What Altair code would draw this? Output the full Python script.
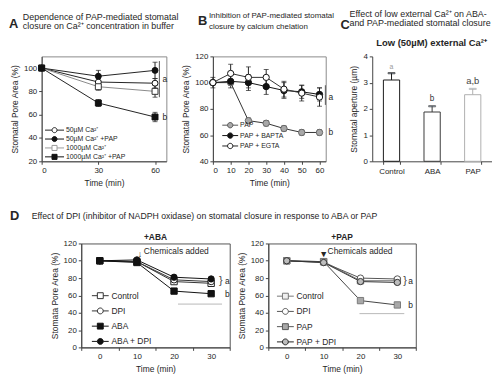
import altair as alt
import pandas as pd

FONT = "Liberation Sans"
INK = "#262626"
ONE = pd.DataFrame({"k": [0]})

# ---------------- Panel A ----------------
A_TIME = [0, 30, 60]
A_SERIES = ["50µM Ca²⁺", "50µM Ca²⁺ +PAP", "1000µM Ca²⁺", "1000µM Ca²⁺ +PAP"]
A_50 = [100, 88, 87]
A_50_PAP = [100, 93, 98]
A_1000 = [100, 84, 80]
A_1000_PAP = [100, 70, 58]
A_ERR_50 = [0, 3, 4]
A_ERR_50_PAP = [0, 5, 7]
A_ERR_1000 = [0, 3, 5]
A_ERR_1000_PAP = [0, 3, 4]
A_ANN_TEXT = ["a", "b"]
A_ANN_T = [64, 64]
A_ANN_V = [91, 58]

# ---------------- Panel B ----------------
B_TIME = [0, 10, 20, 30, 40, 50, 60]
B_SERIES = ["PAP", "PAP + BAPTA", "PAP + EGTA"]
B_PAP = [100, 100, 71, 69, 65, 62, 62]
B_BAPTA = [100, 101, 100, 97, 94, 93, 91]
B_EGTA = [100, 107, 104, 104, 95, 92, 89]
B_ERR_PAP = [0, 2, 2, 2, 2, 2, 2]
B_ERR_BAPTA = [0, 5, 6, 6, 6, 5, 5]
B_ERR_EGTA = [4, 7, 8, 6, 6, 6, 7]
B_ANN_TEXT = ["a", "b"]
B_ANN_T = [65, 65]
B_ANN_V = [89, 62]

# ---------------- Panel C ----------------
C_CATS = ["Control", "ABA", "PAP"]
C_VALS = [3.1, 1.88, 2.54]
C_ERR = [0.26, 0.22, 0.22]
C_LETTERS = ["a", "b", "a,b"]

# ---------------- Panel D ----------------
D_TIME = ["0", "10", "20", "30"]
D1_SERIES = ["Control", "DPI", "ABA", "ABA + DPI"]
D1_CONTROL = [100, 99, 76, 74]
D1_DPI = [100, 99, 78, 76]
D1_ABA = [100, 98, 65, 62]
D1_ABA_DPI = [100, 101, 81, 79]
D2_SERIES = ["Control", "DPI", "PAP", "PAP + DPI"]
D2_CONTROL = [100, 99, 77, 77]
D2_DPI = [100, 98, 80, 79]
D2_PAP = [100, 99, 54, 49]
D2_PAP_DPI = [100, 98, 76, 75]


def long_df(times, series, values, errors=None):
    rows = []
    if errors is None:
        errors = [[0] * len(times)] * len(series)
    for s, vals, errs in zip(series, values, errors):
        for i, (t, v, e) in enumerate(zip(times, vals, errs)):
            rows.append({"i": i, "t": t, "series": s, "v": v, "lo": v - e, "hi": v + e, "e": e})
    return pd.DataFrame(rows)


def sym_path(shape, m, L):
    line = f"M{-L},0H{-m}M{m},0H{L}"
    if shape == "square":
        mk = f"M{-m},{-m}H{m}V{m}H{-m}Z"
    else:
        mk = f"M{-m},0A{m},{m},0,1,0,{m},0A{m},{m},0,1,0,{-m},0Z"
    return line + mk


def text_at(txt, x, y, size=8.5, weight="normal", align="left", color=INK):
    return alt.Chart(ONE).mark_text(
        text=txt, align=align, baseline="alphabetic", fontSize=size,
        fontWeight=weight, color=color, font=FONT,
    ).encode(x=alt.value(x), y=alt.value(y))


def series_layers(df, series, st, X, Y, leg, cap=5):
    def dom(rng):
        return alt.Scale(domain=series, range=rng)

    lines = alt.Chart(df).mark_line(strokeWidth=1).encode(
        x=X("t"), y=Y("v"),
        stroke=alt.Stroke("series:N", scale=dom(st["line"]), legend=None),
        order="i:Q",
    )
    eb = alt.Chart(df).transform_filter("datum.e > 0")
    err_rule = eb.mark_rule(strokeWidth=1, color="#222").encode(
        x=X("t"), y=Y("lo"), y2="hi")
    err_cap = eb.transform_fold(["lo", "hi"], as_=["k", "cv"]).mark_tick(
        orient="horizontal", size=cap, thickness=1, color="#222"
    ).encode(x=X("t"), y=Y("cv"))
    pts = alt.Chart(df).mark_point(filled=True, strokeWidth=1, opacity=1).encode(
        x=X("t"), y=Y("v"),
        shape=alt.Shape("series:N", scale=dom(st["shape"]), legend=None),
        fill=alt.Fill("series:N", scale=dom(st["fill"]), legend=None),
        stroke=alt.Stroke("series:N", scale=dom(st["stroke"]), legend=None),
        size=alt.Size("series:N", scale=dom(st["size"]), legend=None),
    )
    paths = [sym_path(s, leg["m"], leg["L"]) for s in st["shape"]]
    lg = alt.Legend(
        title=None, orient="none", legendX=leg["x"], legendY=leg["y"],
        labelFont=FONT, labelFontSize=leg["fs"], labelColor=INK,
        symbolStrokeWidth=1, symbolSize=leg["S"], rowPadding=leg["rp"],
        labelOffset=leg["lo"], padding=0,
    )
    legend_layer = alt.Chart(df).transform_filter("false").mark_point(
        filled=True, size=leg["S"], strokeWidth=1, opacity=1
    ).encode(
        shape=alt.Shape("series:N", scale=alt.Scale(domain=series, range=paths), legend=lg),
        fill=alt.Fill("series:N", scale=dom(st["fill"]), legend=lg),
        stroke=alt.Stroke("series:N", scale=dom(st["legstroke"]), legend=lg),
    )
    return [lines, err_rule, err_cap, pts, legend_layer]


RESOLVE = dict(shape="independent", fill="independent", stroke="independent", size="independent")
H1 = 106

# ================= Panel A =================
dfA = long_df(A_TIME, A_SERIES, [A_50, A_50_PAP, A_1000, A_1000_PAP],
              [A_ERR_50, A_ERR_50_PAP, A_ERR_1000, A_ERR_1000_PAP])


def XA(f):
    return alt.X(f"{f}:Q", scale=alt.Scale(domain=[0, 66], nice=False, zero=False),
                 axis=alt.Axis(values=A_TIME, title="Time (min)"))


def YA(f):
    return alt.Y(f"{f}:Q", scale=alt.Scale(domain=[20, 110], nice=False, zero=False),
                 axis=alt.Axis(values=[20, 40, 60, 80, 100], title="Stomatal Pore Area (%)"))


stA = dict(
    shape=["circle", "circle", "square", "square"],
    fill=["white", "#111111", "white", "#111111"],
    stroke=["#111111", "#111111", "#333333", "#111111"],
    legstroke=["#222222", "#111111", "#9a9a9a", "#111111"],
    line=["#222222", "#222222", "#8a8a8a", "#222222"],
    size=[36, 36, 49, 64],
)
annA = pd.DataFrame({"t": A_ANN_T, "v": A_ANN_V, "txt": A_ANN_TEXT})
bracketA = pd.DataFrame({"t": [62.3], "lo": [75], "hi": [106]})
layersA = series_layers(dfA, A_SERIES, stA, XA, YA,
                        dict(x=9.5, y=71, S=36, m=0.85, L=3.2, fs=7, rp=-3, lo=8))
layersA += [
    alt.Chart(bracketA).mark_rule(color="#555", strokeWidth=1).encode(x=XA("t"), y=YA("lo"), y2="hi"),
    alt.Chart(annA).mark_text(align="left", baseline="middle", fontSize=8.5, color=INK, font=FONT).encode(
        x=XA("t"), y=YA("v"), text="txt:N"),
    text_at("A", -33, -29, size=13, weight="bold"),
    text_at("Dependence of PAP-mediated stomatal", -19, -36.5, size=9),
    text_at("closure on Ca²⁺ concentration in buffer", -19, -27.5, size=9),
]
panelA = alt.layer(*layersA).resolve_scale(**RESOLVE).properties(
    width=126, height=H1, view=alt.ViewBackground(stroke="#8a8a8a", strokeWidth=1))

# ================= Panel B =================
dfB = long_df(B_TIME, B_SERIES, [B_PAP, B_BAPTA, B_EGTA], [B_ERR_PAP, B_ERR_BAPTA, B_ERR_EGTA])


def XB(f):
    return alt.X(f"{f}:Q", scale=alt.Scale(domain=[0, 63.5], nice=False, zero=False),
                 axis=alt.Axis(values=B_TIME, title="Time (min)"))


def YB(f):
    return alt.Y(f"{f}:Q", scale=alt.Scale(domain=[40, 120], nice=False, zero=False),
                 axis=alt.Axis(values=[40, 60, 80, 100, 120], title="Stomatal Pore Area (%)"))


stB = dict(
    shape=["circle", "circle", "circle"],
    fill=["#a8a8a8", "#111111", "white"],
    stroke=["#666666", "#111111", "#111111"],
    legstroke=["#555555", "#111111", "#222222"],
    line=["#333333", "#111111", "#333333"],
    size=[42, 40, 44],
)
annB = pd.DataFrame({"t": B_ANN_T, "v": B_ANN_V, "txt": B_ANN_TEXT})
bracketB = pd.DataFrame({"t": [63.3], "lo": [83], "hi": [98]})
layersB = series_layers(dfB, B_SERIES, stB, XB, YB,
                        dict(x=14, y=66, S=36, m=0.9, L=2.67, fs=7, rp=-0.5, lo=6.5))
layersB += [
    alt.Chart(bracketB).mark_rule(color="#555", strokeWidth=1).encode(x=XB("t"), y=YB("lo"), y2="hi"),
    alt.Chart(annB).mark_text(align="left", baseline="middle", fontSize=8.5, color=INK, font=FONT).encode(
        x=XB("t"), y=YB("v"), text="txt:N"),
    text_at("B", -15, -32, size=13, weight="bold"),
    text_at("Inhibition of PAP-mediated stomatal", -4, -39, size=8),
    text_at("closure by calcium chelation", -4, -28, size=8),
]
panelB = alt.layer(*layersB).resolve_scale(**RESOLVE).properties(
    width=114, height=H1, view=alt.ViewBackground(stroke="#8a8a8a", strokeWidth=1))

# ================= Panel C =================
dfC = pd.DataFrame({"cat": C_CATS, "v": C_VALS, "e": C_ERR,
                    "top": [v + e for v, e in zip(C_VALS, C_ERR)], "lab": C_LETTERS})
XC = alt.X("cat:N", scale=alt.Scale(domain=C_CATS, paddingInner=0.6, paddingOuter=0.275),
           axis=alt.Axis(title=None, tickBand="extent", labelAngle=0, labelPadding=3))


def YC(f):
    return alt.Y(f"{f}:Q", scale=alt.Scale(domain=[0, 4], nice=False),
                 axis=alt.Axis(values=[0, 1, 2, 3, 4], format="d", title="Stomatal aperture (µm)"))


c_stroke = alt.Stroke("cat:N", scale=alt.Scale(domain=C_CATS, range=["#1a1a1a", "#3a3a3a", "#b0b0b0"]), legend=None)
baseC = alt.Chart(dfC)
layersC = [
    baseC.mark_bar(fill="white", strokeWidth=1).encode(x=XC, y=YC("v"), stroke=c_stroke),
    baseC.mark_rule(strokeWidth=1).encode(x=XC, y=YC("v"), y2="top", stroke=c_stroke),
    baseC.mark_tick(orient="horizontal", size=7, thickness=1.2).encode(x=XC, y=YC("top"), stroke=c_stroke),
    baseC.mark_text(baseline="bottom", dy=-3, font=FONT).encode(
        x=XC, y=YC("top"), text="lab:N",
        color=alt.Color("cat:N", scale=alt.Scale(domain=C_CATS, range=["#9a9a9a", "#333333", "#444444"]), legend=None),
        size=alt.Size("cat:N", scale=alt.Scale(domain=C_CATS, range=[7, 9.5, 8.5]), legend=None)),
    text_at("C", -32, -28, size=13, weight="bold"),
    text_at("Effect of low external Ca²⁺ on ABA-", -23, -39.5, size=9),
    text_at("and PAP-mediated stomatal closure", -23, -30.5, size=9),
    text_at("Low (50µM) external Ca²⁺", 60, -10, size=9.5, weight="bold", align="center"),
]
panelC = alt.layer(*layersC).resolve_scale(stroke="independent", color="independent", size="independent").properties(
    width=121, height=H1)

# ================= Panel D =================


def XD(f):
    return alt.X(f"{f}:N", scale=alt.Scale(domain=D_TIME, type="band", paddingInner=0, paddingOuter=0),
                 axis=alt.Axis(title="Time (min)", tickBand="extent", labelAngle=0))


def YD(f):
    return alt.Y(f"{f}:Q", scale=alt.Scale(domain=[0, 120], nice=False),
                 axis=alt.Axis(values=[0, 20, 40, 60, 80, 100, 120], title="Stomata Pore Area (%)"))


def d_panel(series, values, st, header, sub, width, leg, brace_dx, a_dx, brace_v, b_v, line_v, line_off,
            arrow, arrow_dx, text_dx):
    df = long_df(D_TIME, series, values)
    layers = series_layers(df, series, st, XD, YD, leg)
    ann = pd.DataFrame({"t": ["30", "30"], "v": [brace_v, b_v], "txt": ["a", "b"]})
    layers += [
        alt.Chart(pd.DataFrame({"t": ["30"], "v": [brace_v]})).mark_text(
            text="}", align="left", baseline="middle", fontSize=11, color="#444", font=FONT, dx=brace_dx
        ).encode(x=XD("t"), y=YD("v")),
        alt.Chart(ann).mark_text(align="left", baseline="middle", fontSize=8.5, color=INK, font=FONT, dx=a_dx).encode(
            x=XD("t"), y=YD("v"), text="txt:N"),
        alt.Chart(pd.DataFrame({"s": ["20"], "e": ["30"], "v": [line_v]})).mark_rule(
            color="#b8b8b8", strokeWidth=1, xOffset=line_off[0], x2Offset=line_off[1]
        ).encode(x=XD("s"), x2="e", y=YD("v")),
        alt.Chart(pd.DataFrame({"t": ["10"], "v": [108]})).mark_text(
            text=arrow, align="center", baseline="middle", fontSize=9, color=INK, font=FONT, dx=arrow_dx
        ).encode(x=XD("t"), y=YD("v")),
        alt.Chart(pd.DataFrame({"t": ["10"], "v": [111]})).mark_text(
            text="Chemicals added", align="left", baseline="middle", fontSize=8.5, color=INK, font=FONT, dx=text_dx
        ).encode(x=XD("t"), y=YD("v")),
        text_at(sub, width / 2, -3, size=8.5, weight="bold", align="center"),
    ]
    if header:
        layers += [
            text_at("D", -72, -24, size=13, weight="bold"),
            text_at("Effect of DPI (inhibitor of NADPH oxidase) on stomatal closure in response to ABA or PAP",
                    -50, -25, size=8.8),
        ]
    return layers


stD1 = dict(
    shape=["square", "circle", "square", "circle"],
    fill=["white", "white", "#111111", "#111111"],
    stroke=["#222222", "#222222", "#111111", "#111111"],
    legstroke=["#333333", "#333333", "#111111", "#111111"],
    line=["#333333", "#333333", "#111111", "#111111"],
    size=[42, 40, 56, 40],
)
layersD1 = d_panel(D1_SERIES, [D1_CONTROL, D1_DPI, D1_ABA, D1_ABA_DPI], stD1, True, "+ABA", 150,
                   dict(x=15, y=48.5, S=49, m=0.85, L=2.43, fs=8.5, rp=4.4, lo=7),
                   8, 14, 77, 62, 50, (4, 11), "↓", 3, 7)
panelD1 = alt.layer(*layersD1).resolve_scale(**RESOLVE).properties(
    width=150, height=105, view=alt.ViewBackground(stroke="#555555", strokeWidth=1))

stD2 = dict(
    shape=["square", "circle", "square", "circle"],
    fill=["#f0f0f0", "white", "#a8a8a8", "#bdbdbd"],
    stroke=["#777777", "#555555", "#7a7a7a", "#333333"],
    legstroke=["#777777", "#555555", "#555555", "#222222"],
    line=["#777777", "#555555", "#444444", "#333333"],
    size=[42, 40, 56, 40],
)
layersD2 = d_panel(D2_SERIES, [D2_CONTROL, D2_DPI, D2_PAP, D2_PAP_DPI], stD2, False, "+PAP", 149,
                   dict(x=13, y=49, S=49, m=0.85, L=2.43, fs=8.5, rp=4.4, lo=7),
                   6, 11, 77, 49, 39, (-1, 7), "▼", 0, 4)
panelD2 = alt.layer(*layersD2).resolve_scale(**RESOLVE).properties(
    width=149, height=105, view=alt.ViewBackground(stroke="#555555", strokeWidth=1))

# narrow blank cell that indents the D row
spacer = alt.Chart(ONE).mark_text(text="").encode(x=alt.value(0), y=alt.value(0)).properties(width=1, height=1)

row1 = alt.hconcat(panelA, panelB, panelC, spacing=47, bounds="flush")
row2 = alt.hconcat(spacer, panelD1, panelD2, spacing=39, bounds="flush")

chart = (
    alt.vconcat(row1, row2, spacing=22)
    .properties(padding={"left": 0, "top": 0, "right": 0, "bottom": 0})
    .configure(font=FONT)
    .configure_axis(
        labelFont=FONT, titleFont=FONT, labelFontSize=8, titleFontSize=8.5,
        titleFontWeight="normal", labelColor=INK, titleColor=INK,
        domainColor="#444444", tickColor="#444444", tickSize=3, grid=False,
        labelPadding=2, titlePadding=4,
    )
    .configure_view(stroke=None)
)

chart.save("out.html", embed_options={"renderer": "svg", "actions": False})
